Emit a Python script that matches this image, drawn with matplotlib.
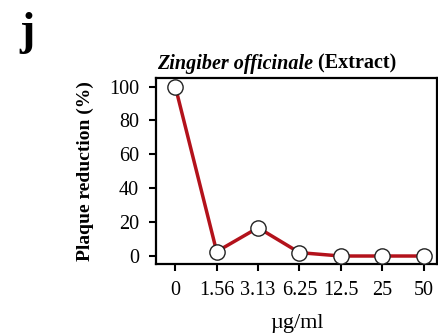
import matplotlib.pyplot as plt

# ── Data ──────────────────────────────────────────────────────────────
conc_labels = ["0", "1.56", "3.13", "6.25", "12.5", "25", "50"]
reduction = [100, 2.6, 16.7, 2.0, 0, 0, 0]
y_ticks = [0, 20, 40, 60, 80, 100]

plt.rcParams["font.family"] = ["Liberation Serif", "DejaVu Serif"]

fig = plt.figure(figsize=(4.39, 3.35), dpi=100)
ax = fig.add_axes([0.355, 0.212, 0.641, 0.555])

x = list(range(len(conc_labels)))
ax.plot(x, reduction, color="#b3121b", lw=2.5, zorder=3,
        marker="o", markersize=11, markerfacecolor="white",
        markeredgecolor="#222222", markeredgewidth=1.0)

ax.set_xlim(-0.47, 6.33)
ax.set_ylim(-4.7, 105)
ax.set_xticks(x)
ax.set_xticklabels(conc_labels, fontsize=14.5)
ax.set_yticks(y_ticks)
ax.set_yticklabels([str(v) for v in y_ticks], fontsize=14.5)
ax.tick_params(direction="out", length=5, width=1.5, pad=7)
for s in ax.spines.values():
    s.set_linewidth(1.6)

ax.set_xlabel("µg/ml", fontsize=16, labelpad=10)
ax.set_ylabel("Plaque reduction (%)", fontsize=14, fontweight="bold", labelpad=11)

# title: italic species name + regular-style suffix
t1 = fig.text(0.357, 0.78, "Zingiber officinale", fontsize=14.5,
              fontweight="bold", style="italic", ha="left", va="bottom")
ax.annotate(" (Extract)", xy=(1, 0), xycoords=t1, fontsize=14.5,
            fontweight="bold", ha="left", va="bottom")

fig.text(0.045, 0.84, "j", fontsize=33, fontweight="bold", ha="left", va="bottom")

fig.savefig("out.png", dpi=100, facecolor="white")
